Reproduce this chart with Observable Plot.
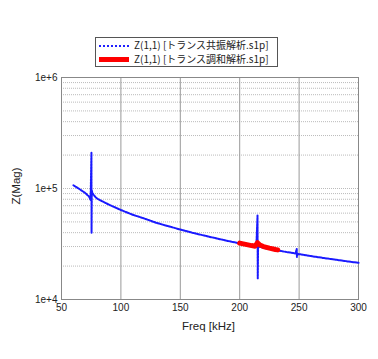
<!DOCTYPE html>
<html><head><meta charset="utf-8">
<script src="https://cdn.jsdelivr.net/npm/d3@7"></script>
<script src="https://cdn.jsdelivr.net/npm/@observablehq/plot@0.6"></script>
<style>
body{margin:0;background:#fff;font-family:"Liberation Sans","DejaVu Sans",sans-serif;}
#wrap{position:relative;width:378px;height:359px;}
#legend{position:absolute;left:95px;top:37px;width:181px;height:28px;border:1px solid #555;background:#fff;font-size:10px;color:#222;font-family:"Noto Sans CJK JP","Liberation Sans",sans-serif;}
.row{position:absolute;left:3px;height:12px;line-height:12px;white-space:nowrap;}
.sw{display:inline-block;width:30px;vertical-align:middle;margin-right:5px;}
.ttl{position:absolute;font-size:11.5px;color:#222;white-space:nowrap;}
</style></head><body>
<div id="wrap"><div id="chart"></div>
<div id="legend">
<div class="row" style="top:1px"><span class="sw" style="border-top:2px dotted #2020ff"></span>Z(1,1) [トランス共振解析.s1p]</div>
<div class="row" style="top:15px"><span class="sw" style="border-top:5px solid #ff0000;margin-top:-2px"></span>Z(1,1) [トランス調和解析.s1p]</div>
</div>
<div class="ttl" style="left:182px;top:320px">Freq [kHz]</div>
<div class="ttl" style="left:-3px;top:180px;transform:rotate(-90deg)">Z(Mag)</div>
</div>
<script>
const resFreq = [60,65,70,73,74.5,75.2,75.3,75.5,76,78,80,85,90,100,110,120,130,140,150,160,170,180,190,200,210,214,215,215.2,215.5,216,220,230,240,247,248,248.2,248.5,250,260,270,280,290,300];
const resZ = [1.07e5,9.9e4,9.1e4,8.5e4,7.9e4,2.1e5,4.0e4,9.6e4,9.1e4,8.5e4,8.1e4,7.6e4,7.15e4,6.4e4,5.8e4,5.35e4,4.9e4,4.57e4,4.27e4,4.0e4,3.77e4,3.56e4,3.37e4,3.2e4,3.05e4,3.0e4,5.7e4,1.55e4,3.1e4,3.0e4,2.92e4,2.79e4,2.67e4,2.6e4,2.85e4,2.42e4,2.58e4,2.56e4,2.46e4,2.37e4,2.29e4,2.21e4,2.14e4];
const harFreq = [200,205,210,213,215,217,220,225,230,232];
const harZ = [3.22e4,3.14e4,3.06e4,3.02e4,3.25e4,3.1e4,3.0e4,2.9e4,2.82e4,2.8e4];
const xTicks = [50,100,150,200,250,300];
const yTicks = [1e4,1e5,1e6];
const yGrid = [2e4,3e4,4e4,5e4,6e4,7e4,8e4,9e4,1e5,2e5,3e5,4e5,5e5,6e5,7e5,8e5,9e5];

const res = resFreq.map((f,i)=>({f, z: resZ[i]}));
const har = harFreq.map((f,i)=>({f, z: harZ[i]}));

const chart = Plot.plot({
  width: 378, height: 359,
  marginTop: 77, marginLeft: 61, marginRight: 20, marginBottom: 60,
  style: {fontFamily: "Liberation Sans, DejaVu Sans, sans-serif", fontSize: "10px", color: "#222"},
  x: {domain: [50,300], ticks: xTicks, tickSize: 0, tickPadding: 4, label: null},
  y: {type: "log", domain: [1e4,1e6], ticks: yTicks, tickSize: 0, tickPadding: 4, tickFormat: d => "1e+" + Math.round(Math.log10(d)), label: null},
  marks: [
    Plot.ruleY(yGrid, {stroke: "#bbb", strokeDasharray: "1,1", strokeWidth: 1}),
    Plot.ruleX(xTicks.slice(1,-1), {stroke: "#999", strokeWidth: 1}),
    Plot.frame({stroke: "#888"}),
    Plot.line(res, {x: "f", y: "z", stroke: "#1a1aff", strokeWidth: 2, strokeDasharray: "2,1"}),
    Plot.line(har, {x: "f", y: "z", stroke: "#ff0000", strokeWidth: 5})
  ]
});
document.getElementById("chart").appendChild(chart);
</script></body></html>
